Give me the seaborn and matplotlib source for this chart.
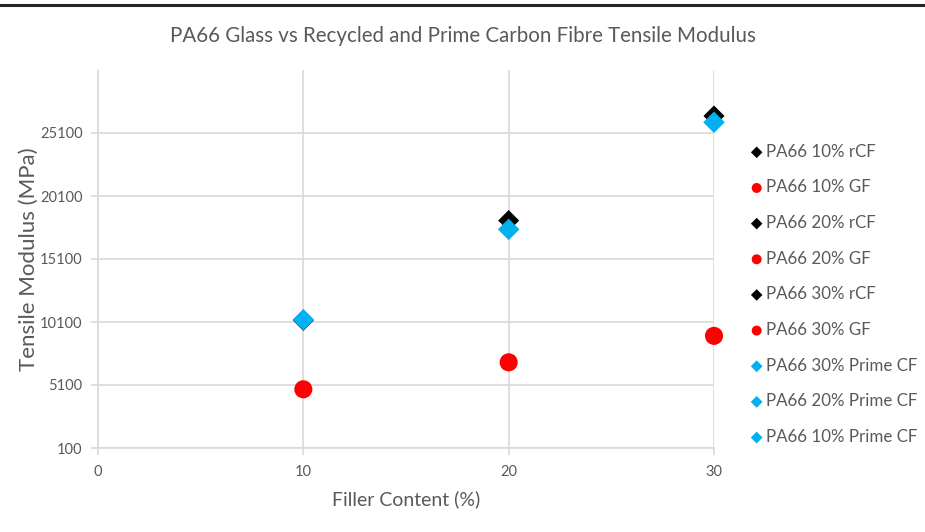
import matplotlib
matplotlib.use("Agg")
import matplotlib.pyplot as plt
from matplotlib.lines import Line2D
import seaborn as sns
import pandas as pd

# Series in legend order: label, filler content (%), tensile modulus (MPa)
series_names = [
    "PA66 10% rCF", "PA66 10% GF", "PA66 20% rCF", "PA66 20% GF",
    "PA66 30% rCF", "PA66 30% GF", "PA66 30% Prime CF",
    "PA66 20% Prime CF", "PA66 10% Prime CF",
]
filler_content = [10, 10, 20, 20, 30, 30, 30, 20, 10]
tensile_modulus = [10230, 4760, 18150, 6900, 26450, 9000, 25950, 17450, 10280]
fibre_type = ["rCF", "GF", "rCF", "GF", "rCF", "GF", "Prime", "Prime", "Prime"]

y_ticks = [100, 5100, 10100, 15100, 20100, 25100]
x_ticks = [0, 10, 20, 30]

colors = {"rCF": "#000000", "GF": "#ff0000", "Prime": "#00b0f0"}
markers = {"rCF": "D", "GF": "o", "Prime": "D"}
sizes = {"rCF": 115, "GF": 170, "Prime": 120}

df = pd.DataFrame({
    "series": series_names,
    "filler": filler_content,
    "modulus": tensile_modulus,
    "fibre": fibre_type,
})

sns.set_theme(style="white")
plt.rcParams["font.family"] = ["Lato", "DejaVu Sans"]

fig = plt.figure(figsize=(9.25, 5.32), dpi=100)
ax = fig.add_axes([98 / 925, 1 - 448 / 532, (714 - 98) / 925, (448 - 70) / 532])

for _, row in df.iterrows():
    sns.scatterplot(
        x=[row["filler"]], y=[row["modulus"]], ax=ax,
        color=colors[row["fibre"]], marker=markers[row["fibre"]],
        s=sizes[row["fibre"]], edgecolor="none", linewidth=0,
        label=row["series"], zorder=3, clip_on=False,
    )

grid_c = "#d9d9d9"
text_c = "#595959"

ax.set_xlim(0, 30)
ax.set_ylim(100, 30100)
ax.set_xticks(x_ticks)
ax.set_yticks(y_ticks)
ax.set_xticklabels([str(v) for v in x_ticks])
ax.set_yticklabels([str(v) for v in y_ticks])
ax.grid(True, color=grid_c, linewidth=1.2)
ax.set_axisbelow(True)

for side in ["top", "right"]:
    ax.spines[side].set_visible(False)
for side in ["left", "bottom"]:
    ax.spines[side].set_color(grid_c)
    ax.spines[side].set_linewidth(1.2)

ax.tick_params(axis="both", which="both", length=5, width=1.2, color=grid_c,
               labelcolor=text_c, labelsize=10.5, direction="out",
               bottom=True, left=True)
ax.tick_params(axis="x", pad=7)
ax.tick_params(axis="y", pad=6)

ax.set_xlabel("Filler Content (%)", fontsize=14, color=text_c, labelpad=8)
ax.set_ylabel("Tensile Modulus (MPa)", fontsize=16, color=text_c, labelpad=1)

fig.text(463 / 925, 1 - 36 / 532,
         "PA66 Glass vs Recycled and Prime Carbon Fibre Tensile Modulus",
         ha="center", va="center", fontsize=14.8, color=text_c)

handles, labels = ax.get_legend_handles_labels()
if ax.get_legend():
    ax.get_legend().remove()
leg = fig.legend(handles, labels, loc="upper left",
                 bbox_to_anchor=(741 / 925, 1 - 137 / 532),
                 frameon=False, fontsize=12.2, labelcolor=text_c,
                 markerscale=0.55, handletextpad=0.0, handlelength=1.05,
                 labelspacing=1.16, borderaxespad=0)

# dark rule across the top of the figure
fig.add_artist(Line2D([0, 1], [1 - 5 / 532, 1 - 5 / 532],
                      color="#262626", linewidth=2.2,
                      transform=fig.transFigure))

fig.savefig("out.png", dpi=100, facecolor="white")
